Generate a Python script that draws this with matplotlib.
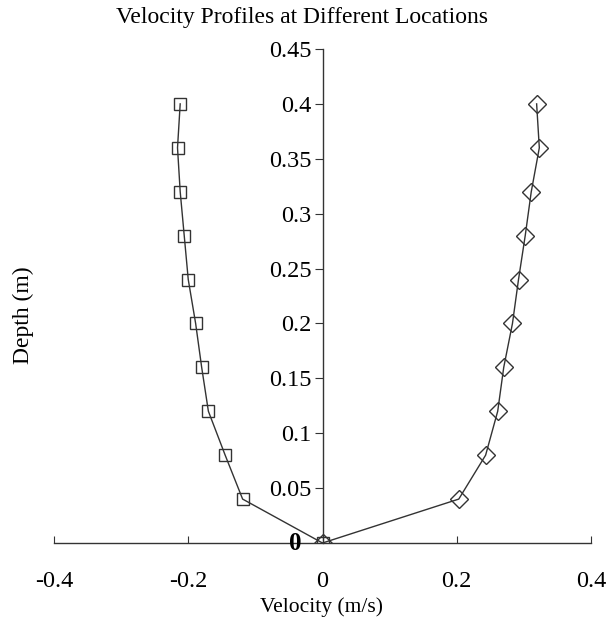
import matplotlib
matplotlib.use('Agg')
import matplotlib.pyplot as plt

plt.rcParams['font.family'] = ['Liberation Serif', 'DejaVu Serif']

# Data
depth = [0.0, 0.04, 0.08, 0.12, 0.16, 0.20, 0.24, 0.28, 0.32, 0.36, 0.40]
vel_left = [0.0, -0.119, -0.145, -0.170, -0.180, -0.189, -0.200, -0.206, -0.212, -0.216, -0.212]
vel_right = [0.0, 0.203, 0.243, 0.261, 0.270, 0.283, 0.292, 0.302, 0.311, 0.323, 0.319]
x_ticks = [-0.4, -0.2, 0, 0.2, 0.4]
x_labels = ['-0.4', '-0.2', '0', '0.2', '0.4']
y_ticks = [0.05, 0.1, 0.15, 0.2, 0.25, 0.3, 0.35, 0.4, 0.45]
y_labels = ['0.05', '0.1', '0.15', '0.2', '0.25', '0.3', '0.35', '0.4', '0.45']

line_col = '#333333'

fig = plt.figure(figsize=(6.08, 6.23), dpi=100)
ax = fig.add_axes([54 / 608, 80 / 623, 537 / 608, 494 / 623])

ax.plot(vel_left, depth, color=line_col, lw=1, marker='s', ms=9,
        mfc='none', mec=line_col, mew=1)
ax.plot(vel_right, depth, color=line_col, lw=1, marker='D', ms=9.5,
        mfc='none', mec=line_col, mew=1)

ax.set_xlim(-0.4, 0.4)
ax.set_ylim(0, 0.45)

# spines: y axis through x=0, x axis at bottom
ax.spines['left'].set_position(('data', 0))
ax.spines['top'].set_visible(False)
ax.spines['right'].set_visible(False)
for s in ['left', 'bottom']:
    ax.spines[s].set_color(line_col)
    ax.spines[s].set_linewidth(1)

ax.set_xticks(x_ticks)
ax.set_xticklabels(x_labels)
ax.set_yticks(y_ticks)
ax.set_yticklabels(y_labels)
ax.tick_params(axis='x', direction='in', length=5, pad=20, labelsize=17.5, color=line_col)
ax.tick_params(axis='y', direction='out', length=6, pad=2, labelsize=17.5, color=line_col)

# bold zero at origin
ax.text(-0.04, 0, '0', fontsize=18, fontweight='bold', ha='center', va='center')

fig.text(0.5 * (118 + 487) / 608, 1 - 17 / 623, 'Velocity Profiles at Different Locations',
         fontsize=17, ha='center', va='center')
fig.text(322 / 608, 1 - 607 / 623, 'Velocity (m/s)', fontsize=15.5, ha='center', va='center')
fig.text(23 / 608, 1 - 315 / 623, 'Depth (m)', fontsize=17, ha='center', va='center',
         rotation=90)

fig.savefig('out.png', dpi=100)
